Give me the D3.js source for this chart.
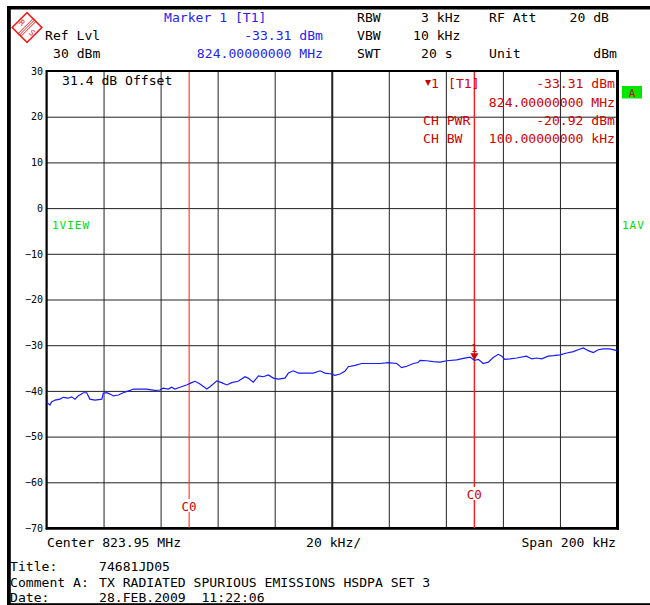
<!DOCTYPE html>
<html>
<head>
<meta charset="utf-8">
<script src="https://cdn.jsdelivr.net/npm/d3@7/dist/d3.min.js"></script>
<style>
  body { margin: 0; background: #fff; }
  svg { display: block; font-family: 'DejaVu Sans Mono', monospace; }
</style>
</head>
<body>
<svg width="650" height="605"></svg>
<script>
// trace: frequency offset from start (kHz, span 200 kHz) and level (dBm)
const traceKHz = [0, 1.2, 1.8, 3.0, 4.7, 5.9, 7.6, 8.8, 10.0, 11.1, 12.9, 14.1, 15.2, 17.0, 19.4, 19.9,
  21.1, 22.3, 23.4, 25.2, 26.9, 29.3, 30.4, 32.8, 35.1, 38.0, 39.8, 40.9, 42.7, 43.9, 45.0, 46.8,
  49.1, 50.9, 52.1, 53.8, 56.2, 57.3, 59.7, 61.4, 63.2, 64.9, 67.2, 69.6, 70.7, 72.5, 74.3, 76.0,
  77.8, 79.5, 81.3, 83.6, 84.8, 86.5, 88.3, 91.2, 93.5, 95.9, 97.6, 100.0, 101.1, 102.9, 104.6,
  105.8, 108.2, 110.5, 113.4, 116.9, 119.8, 122.8, 124.5, 126.3, 128.6, 130.3, 130.9, 133.3,
  135.6, 138.0, 140.3, 143.8, 146.1, 148.5, 150.0, 151.4, 153.1, 154.9, 156.6, 158.4, 159.6,
  160.7, 162.5, 164.8, 168.3, 170.1, 171.8, 173.6, 175.9, 177.7, 180.0, 182.4, 184.7, 186.4,
  188.2, 189.9, 191.7, 193.4, 195.2, 197.5, 200.0];
const traceDbm = [-42.4, -43.1, -42.4, -42.0, -41.8, -41.4, -41.6, -41.3, -41.8, -41.1, -40.4, -40.4, -41.8, -42.0, -41.8, -40.5,
  -40.4, -40.7, -41.1, -40.9, -40.4, -39.9, -39.6, -39.6, -39.6, -39.9, -39.8, -39.4, -39.6, -39.2, -39.6, -39.2,
  -38.7, -38.2, -37.9, -38.5, -39.6, -39.1, -37.8, -38.2, -38.7, -38.2, -37.9, -36.9, -37.2, -38.1, -36.7, -36.9,
  -36.5, -37.2, -37.4, -37.2, -36.1, -35.6, -36.1, -36.1, -36.1, -35.6, -36.1, -36.3, -36.6, -36.3, -35.7,
  -34.7, -34.4, -34.0, -34.0, -34.0, -33.8, -34.0, -34.9, -34.6, -34.0, -33.8, -33.3, -33.4,
  -33.6, -33.7, -33.4, -33.2, -32.9, -32.6, -33.31, -33.1, -34.0, -33.7, -32.7, -32.0, -32.4,
  -33.1, -33.0, -32.8, -32.4, -33.0, -32.8, -33.0, -32.4, -32.3, -32.1, -31.7, -31.4, -31.0,
  -30.6, -31.2, -31.6, -31.0, -30.8, -30.8, -31.2];

const yTicks = [30, 20, 10, 0, -10, -20, -30, -40, -50, -60, -70];
const xTicks = [0, 20, 40, 60, 80, 100, 120, 140, 160, 180, 200];
const channelKHz = [50, 150];         // channel edges (823.90 / 824.00 MHz)
const channelLabels = ['C0', 'C0'];
const markerKHz = 150;
const markerDbm = -33.31;

const svg = d3.select('svg');
const pl = 46.5, pr = 617, pt = 71, pb = 528;

const xScale = d3.scaleLinear().domain([0, 200]).range([pl, pr]);
const yScale = d3.scaleLinear().domain([-70, 30]).range([pb, pt]);

const black = '#000', blue = '#2424f0', red = '#d00000', green = '#00dd00';

// outer frame
svg.append('rect').attr('x', 7).attr('y', 6).attr('width', 643).attr('height', 3.5).attr('fill', black);
svg.append('rect').attr('x', 7).attr('y', 6).attr('width', 3.8).attr('height', 599).attr('fill', black);
svg.append('rect').attr('x', 7).attr('y', 603.2).attr('width', 643).attr('height', 1.8).attr('fill', black);

// R&S logo
const logo = svg.append('g').attr('transform', 'translate(27,27.5)');
logo.append('rect').attr('x', -10.5).attr('y', -10.5).attr('width', 21).attr('height', 21)
  .attr('transform', 'rotate(45)').attr('fill', 'none').attr('stroke', '#f02020').attr('stroke-width', 1.6);
[-2, 0, 2].forEach(o => {
  logo.append('line').attr('x1', -8 + o * 0.7).attr('y1', 8 + o * 0.7).attr('x2', 8 + o * 0.7).attr('y2', -8 + o * 0.7)
    .attr('stroke', '#f02020').attr('stroke-width', 1);
});
logo.append('text').text('R').attr('x', -5).attr('y', -2).attr('font-size', 8).attr('fill', '#f02020')
  .attr('text-anchor', 'middle').attr('transform', 'rotate(45,-5,-5)');
logo.append('text').text('S').attr('x', 5).attr('y', 8).attr('font-size', 8).attr('fill', '#f02020')
  .attr('text-anchor', 'middle').attr('transform', 'rotate(45,5,5)');

// header texts
const txt = (s, x, y, fill, anchor, size) => svg.append('text').text(s)
  .attr('x', x).attr('y', y).attr('fill', fill || black)
  .attr('text-anchor', anchor || 'start').attr('font-size', size || 13.1)
  .style('white-space', 'pre');

txt('Marker 1 [T1]', 164, 21.5, blue);
txt('RBW', 357, 21.5);
txt('3 kHz', 421, 21.5);
txt('RF Att', 489, 21.5);
txt('20 dB', 609, 21.5, black, 'end');
txt('Ref Lvl', 45, 40);
txt('-33.31 dBm', 323, 40, blue, 'end');
txt('VBW', 357, 40);
txt('10 kHz', 413, 40);
txt('30 dBm', 53, 58);
txt('824.00000000 MHz', 323, 58, blue, 'end');
txt('SWT', 357, 58);
txt('20 s', 421, 58);
txt('Unit', 489, 58);
txt('dBm', 617, 58, black, 'end');

// grid via axes
const gy = svg.append('g').attr('transform', `translate(${pl},0)`)
  .call(d3.axisLeft(yScale).tickValues(yTicks).tickSize(-(pr - pl)).tickPadding(3.5));
gy.select('.domain').remove();
gy.selectAll('line').attr('stroke', '#222').attr('stroke-width', 1);
gy.selectAll('text').attr('font-size', 10).attr('font-family', 'DejaVu Sans Mono').attr('fill', black);

const gx = svg.append('g').attr('transform', `translate(0,${pb})`)
  .call(d3.axisBottom(xScale).tickValues(xTicks).tickSize(-(pb - pt)).tickFormat(''));
gx.select('.domain').remove();
gx.selectAll('line').attr('stroke', '#222').attr('stroke-width', d => d === 100 ? 2 : 1);

// plot frame (heavier on right and bottom)
svg.append('rect').attr('x', pl).attr('y', pt).attr('width', pr - pl).attr('height', pb - pt)
  .attr('fill', 'none').attr('stroke', black).attr('stroke-width', 2);
svg.append('line').attr('x1', pr + 1).attr('x2', pr + 1).attr('y1', pt - 1).attr('y2', pb + 2)
  .attr('stroke', black).attr('stroke-width', 2);
svg.append('line').attr('x1', pl - 1).attr('x2', pr + 2).attr('y1', pb + 1).attr('y2', pb + 1)
  .attr('stroke', black).attr('stroke-width', 1.5);

// channel lines
const coY = [506, 494];
channelKHz.forEach((k, i) => {
  const x = xScale(k);
  svg.append('line').attr('x1', x).attr('x2', x).attr('y1', pt + 1).attr('y2', pb)
    .attr('stroke', '#ff1a1a').attr('stroke-width', i === 1 ? 1.4 : 1);
  svg.append('rect').attr('x', x - 9).attr('y', coY[i] - 7).attr('width', 18).attr('height', 13).attr('fill', '#fff');
  svg.append('text').text(channelLabels[i]).attr('x', x).attr('y', coY[i] + 5)
    .attr('text-anchor', 'middle').attr('font-size', 12.5).attr('fill', red);
});

// labels inside plot
txt('31.4 dB Offset', 62, 85);
txt('1VIEW', 52, 228.5, green, 'start', 11).attr('letter-spacing', 1);
txt('1AV', 622, 228.5, green, 'start', 11).attr('letter-spacing', 1);

// marker info block
svg.append('path').attr('d', 'M425,80 L431,80 L428,86 Z').attr('fill', red);
txt('1', 431, 88, red);
txt('[T1]', 448, 88, red);
txt('-33.31 dBm', 615, 88, red, 'end');
txt('824.00000000 MHz', 615, 106.5, red, 'end');
txt('CH PWR', 423, 125, red);
txt('-20.92 dBm', 615, 125, red, 'end');
txt('CH BW', 423, 143, red);
txt('100.00000000 kHz', 615, 143, red, 'end');

// green "A" box
svg.append('rect').attr('x', 622).attr('y', 86).attr('width', 20).attr('height', 12.5).attr('fill', '#00e800');
svg.append('text').text('A').attr('x', 632).attr('y', 96.5).attr('text-anchor', 'middle')
  .attr('font-size', 11).attr('fill', red);

// trace
const pts = traceKHz.map((k, i) => [k, traceDbm[i]]);
svg.append('path').datum(pts)
  .attr('d', d3.line().x(d => xScale(d[0])).y(d => yScale(d[1])))
  .attr('fill', 'none').attr('stroke', '#1a1aff').attr('stroke-width', 1.2);

// marker
const mx = xScale(markerKHz), my = yScale(markerDbm);
svg.append('path').attr('d', `M${mx - 4},${my - 7} L${mx + 4},${my - 7} L${mx},${my} Z`).attr('fill', red);
svg.append('text').text('1').attr('x', mx).attr('y', my - 8.5).attr('text-anchor', 'middle')
  .attr('font-size', 10).attr('fill', red);

// bottom texts
txt('Center 823.95 MHz', 47, 547);
txt('20 kHz/', 306, 547);
txt('Span 200 kHz', 616, 547, black, 'end');
txt('Title:', 10, 571);
txt('74681JD05', 99, 571);
txt('Comment A:', 10, 587);
txt('TX RADIATED SPURIOUS EMISSIONS HSDPA SET 3', 99, 587);
txt('Date:', 10, 601.5);
txt('28.FEB.2009  11:22:06', 99, 601.5);
</script>
</body>
</html>
